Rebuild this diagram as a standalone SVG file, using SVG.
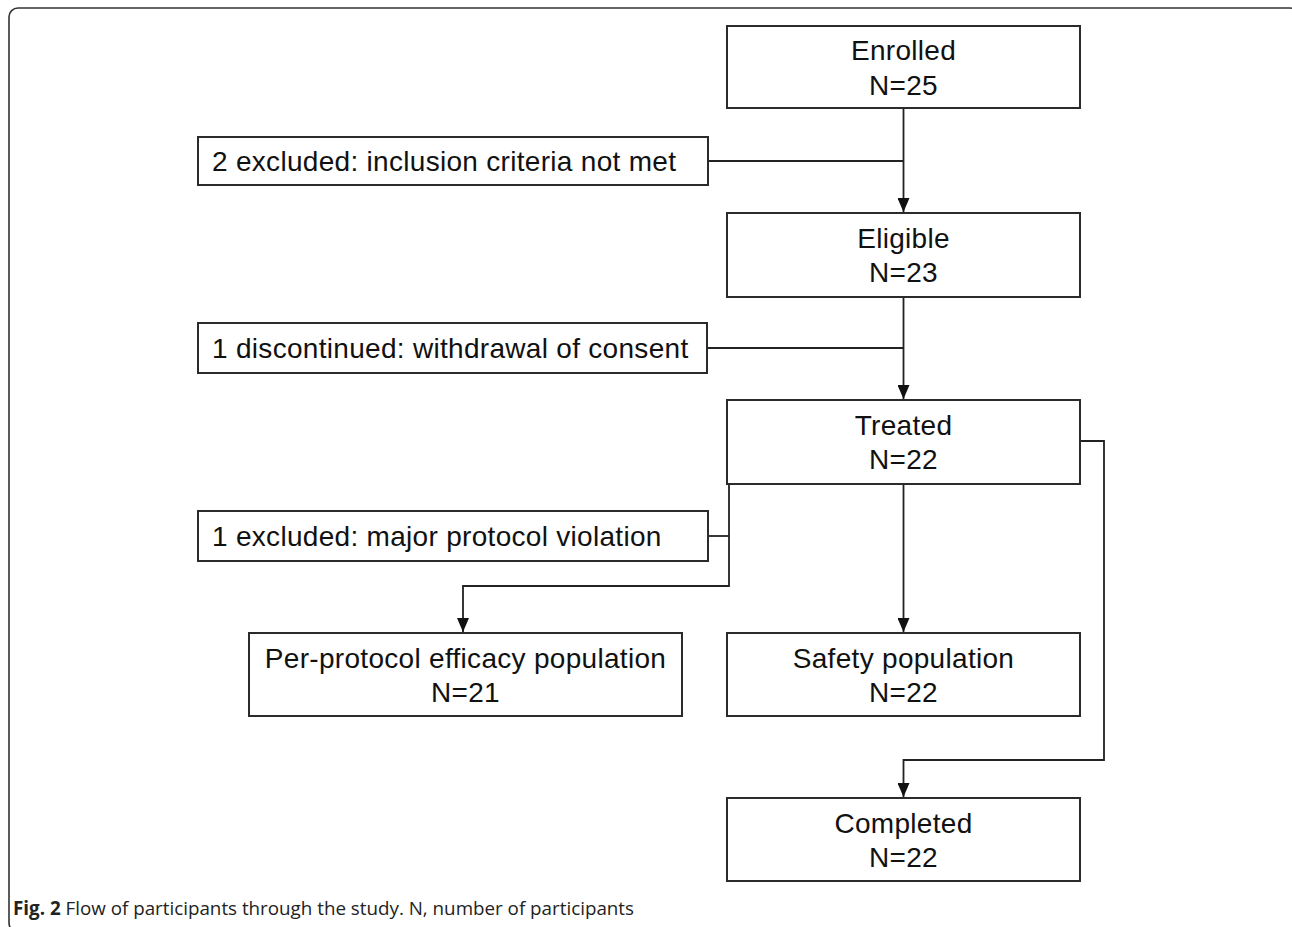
<svg xmlns="http://www.w3.org/2000/svg" width="1292" height="927" viewBox="0 0 1292 927">
<style>
.box{fill:#fff;stroke:#2b2b2b;stroke-width:2}
.t{font-family:"Liberation Sans",Arial,sans-serif;font-size:28px;fill:#111;letter-spacing:0.3px}
.c{text-anchor:middle}
.ln{fill:none;stroke:#222;stroke-width:1.8}
.cap{font-family:"Open Sans","Liberation Sans",sans-serif;font-size:18.8px;fill:#222}
</style>
<defs>
<marker id="ah" viewBox="0 0 14 12" refX="14" refY="6" markerWidth="14" markerHeight="12" markerUnits="userSpaceOnUse" orient="auto">
<path d="M0,0 L14,6 L0,12 Z" fill="#111"/>
</marker>
</defs>
<rect x="9" y="8" width="1290" height="924" rx="9" fill="#fff" stroke="#333" stroke-width="1.6"/>
<g id="connectors">
<line class="ln" x1="903.5" y1="108" x2="903.5" y2="212" marker-end="url(#ah)"/>
<line class="ln" x1="708" y1="161" x2="903.5" y2="161"/>
<line class="ln" x1="903.5" y1="297" x2="903.5" y2="399" marker-end="url(#ah)"/>
<line class="ln" x1="707" y1="348" x2="903.5" y2="348"/>
<line class="ln" x1="903.5" y1="484" x2="903.5" y2="632" marker-end="url(#ah)"/>
<path class="ln" d="M729,484 L729,586 L463,586 L463,632" marker-end="url(#ah)"/>
<line class="ln" x1="708" y1="536" x2="729" y2="536"/>
<path class="ln" d="M1080,441 L1104,441 L1104,760 L903.5,760 L903.5,797" marker-end="url(#ah)"/>
</g>
<g id="enrolled">
<rect class="box" x="727" y="26" width="353" height="82"/>
<text class="t c" x="903.5" y="60">Enrolled</text>
<text class="t c" x="903.5" y="95">N=25</text>
</g>
<g id="excluded-inclusion">
<rect class="box" x="198" y="137" width="510" height="48"/>
<text class="t" x="212" y="171">2 excluded: inclusion criteria not met</text>
</g>
<g id="eligible">
<rect class="box" x="727" y="213" width="353" height="84"/>
<text class="t c" x="903.5" y="248">Eligible</text>
<text class="t c" x="903.5" y="282">N=23</text>
</g>
<g id="discontinued">
<rect class="box" x="198" y="323" width="509" height="50"/>
<text class="t" x="212" y="358">1 discontinued: withdrawal of consent</text>
</g>
<g id="treated">
<rect class="box" x="727" y="400" width="353" height="84"/>
<text class="t c" x="903.5" y="435">Treated</text>
<text class="t c" x="903.5" y="469">N=22</text>
</g>
<g id="excluded-protocol">
<rect class="box" x="198" y="511" width="510" height="50"/>
<text class="t" x="212" y="546">1 excluded: major protocol violation</text>
</g>
<g id="per-protocol">
<rect class="box" x="249" y="633" width="433" height="83"/>
<text class="t c" x="465.5" y="668">Per-protocol efficacy population</text>
<text class="t c" x="465.5" y="702">N=21</text>
</g>
<g id="safety">
<rect class="box" x="727" y="633" width="353" height="83"/>
<text class="t c" x="903.5" y="668">Safety population</text>
<text class="t c" x="903.5" y="702">N=22</text>
</g>
<g id="completed">
<rect class="box" x="727" y="798" width="353" height="83"/>
<text class="t c" x="903.5" y="833">Completed</text>
<text class="t c" x="903.5" y="867">N=22</text>
</g>
<text class="cap" x="13" y="915"><tspan font-weight="bold">Fig. 2</tspan> Flow of participants through the study. N, number of participants</text>
</svg>
